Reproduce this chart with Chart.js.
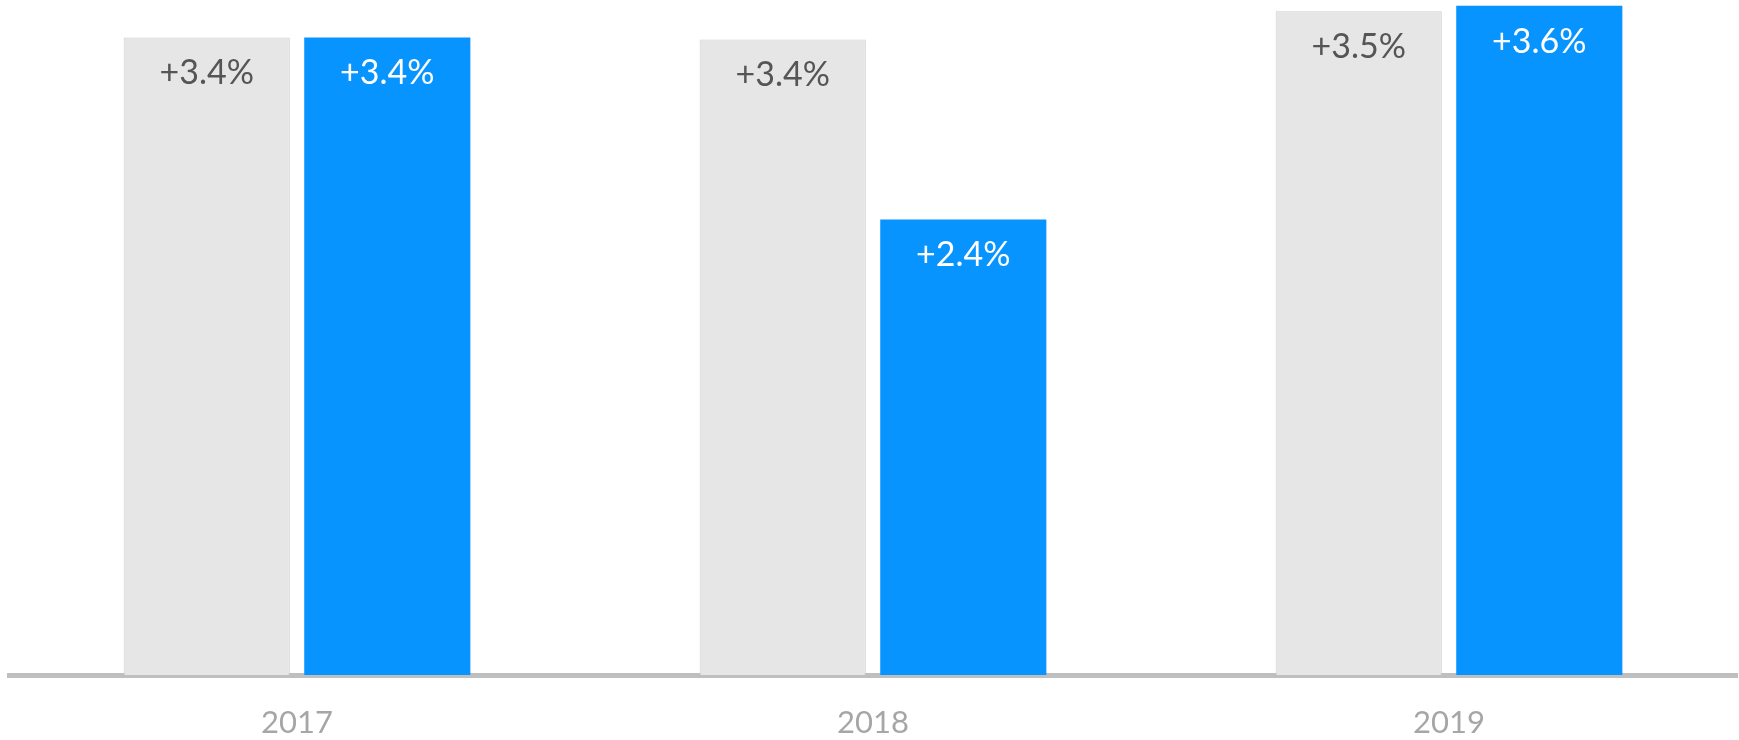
<!DOCTYPE html>
<html>
<head>
<meta charset="utf-8">
<script src="https://cdn.jsdelivr.net/npm/chart.js@4/dist/chart.umd.min.js"></script>
<style>
  html, body { margin: 0; padding: 0; background: #ffffff; }
  #wrap { width: 1739px; height: 740px; position: relative; }
</style>
</head>
<body>
<div id="wrap"><canvas id="growthChart"></canvas></div>
<script>
const years = ["2017", "2018", "2019"];
const previousGrowth = [3.40, 3.39, 3.54];
const actualGrowth = [3.40, 2.43, 3.57];
const seriesNames = ["Previous", "Actual"];

// writes "+x.x%" inside the top of each bar
const barLabels = {
    id: "barLabels",
    afterDatasetsDraw(chart) {
        const ctx = chart.ctx;
        ctx.save();
        ctx.font = "400 34px Lato";
        ctx.textAlign = "center";
        ctx.textBaseline = "middle";
        chart.data.datasets.forEach((ds, i) => {
            const meta = chart.getDatasetMeta(i);
            ctx.fillStyle = i === 0 ? "#555555" : "#ffffff";
            meta.data.forEach((bar, j) => {
                ctx.fillText("+" + ds.data[j].toFixed(1) + "%", bar.x, bar.y + 36);
            });
        });
        ctx.restore();
    }
};

document.addEventListener("DOMContentLoaded", function () {
    let ctx = document.getElementById("growthChart").getContext("2d");

    new Chart(ctx, {
        type: "bar",
        data: {
            labels: years,
            datasets: [{
                label: seriesNames[0],
                data: previousGrowth,
                backgroundColor: "#e6e6e6",
                borderColor: "#cdcdcd",
                borderWidth: 1,
                borderSkipped: "bottom"
            }, {
                label: seriesNames[1],
                data: actualGrowth,
                backgroundColor: "#0794ff",
                borderWidth: 0
            }]
        },
        options: {
            responsive: true,
            maintainAspectRatio: false,
            animation: false,
            layout: { padding: { left: 9, right: 2, top: 0, bottom: 0 } },
            datasets: {
                bar: { categoryPercentage: 0.627, barPercentage: 0.92 }
            },
            plugins: {
                legend: { display: false },
                tooltip: { enabled: false }
            },
            scales: {
                x: {
                    grid: { display: false },
                    border: { display: true, color: "#bfbfbf", width: 5 },
                    ticks: {
                        color: "#a6a6a6",
                        font: { family: "Lato", size: 31 },
                        padding: 21
                    },
                    afterFit(scale) { scale.height = 65; }
                },
                y: {
                    display: false,
                    min: 0,
                    max: 3.6
                }
            }
        },
        plugins: [barLabels]
    });
});
</script>
</body>
</html>
